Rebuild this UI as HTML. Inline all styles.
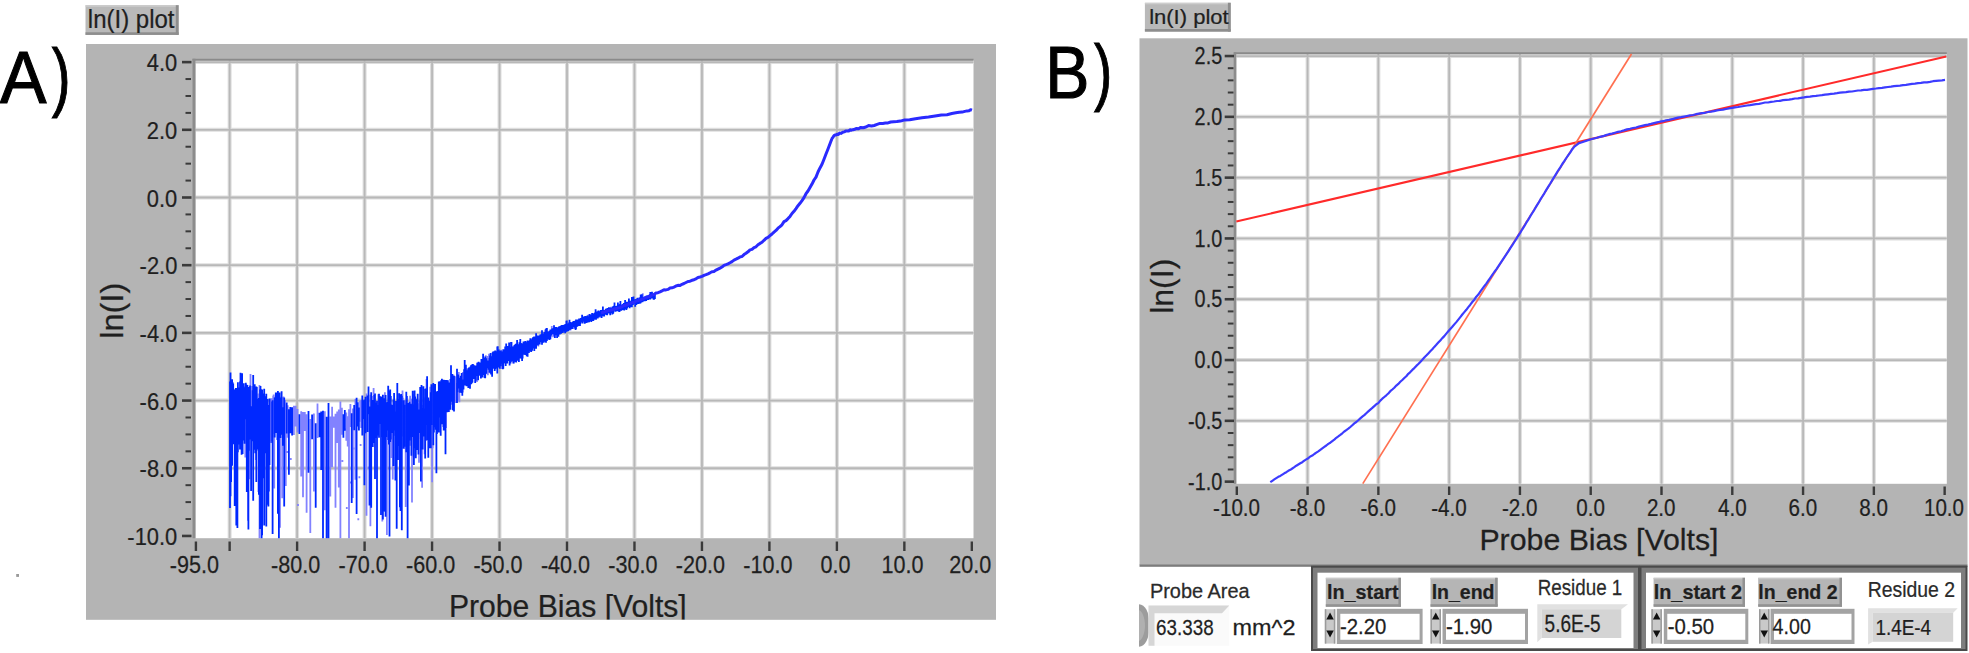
<!DOCTYPE html>
<html><head><meta charset="utf-8"><title>ln(I) plots</title>
<style>
html,body{margin:0;padding:0;background:#fff;}
body{width:1969px;height:653px;overflow:hidden;position:relative;}
svg{position:absolute;left:0;top:0;font-family:"Liberation Sans", Arial, sans-serif;}
</style></head><body>
<svg class="m" width="1969" height="653" viewBox="0 0 1969 653">
<rect x="85.5" y="5.2" width="93.1" height="29.7" fill="#b9b9b9"/>
<rect x="85.5" y="5.2" width="93.1" height="1.5" fill="#cdcdcd"/>
<rect x="175.8" y="5.2" width="2.8" height="29.7" fill="#8e8e8e"/>
<rect x="85.5" y="32.3" width="93.1" height="2.6" fill="#8e8e8e"/>
<rect x="1144.9" y="2.8" width="85.8" height="28.8" fill="#b9b9b9"/>
<rect x="1144.9" y="2.8" width="85.8" height="1.5" fill="#cdcdcd"/>
<rect x="1227.9" y="2.8" width="2.8" height="28.8" fill="#8e8e8e"/>
<rect x="1144.9" y="29" width="85.8" height="2.6" fill="#8e8e8e"/>
<rect x="16.2" y="574" width="2.8" height="2.9" fill="#9a9a9a"/>
<rect x="86" y="44" width="910" height="575.8" fill="#b4b4b4"/>
<rect x="195.3" y="60.5" width="778.2" height="477.7" fill="#ffffff"/>
<line x1="229.64" y1="60.5" x2="229.64" y2="538.2" stroke="#dedede" stroke-width="4"/>
<line x1="297.11" y1="60.5" x2="297.11" y2="538.2" stroke="#dedede" stroke-width="4"/>
<line x1="364.59" y1="60.5" x2="364.59" y2="538.2" stroke="#dedede" stroke-width="4"/>
<line x1="432.06" y1="60.5" x2="432.06" y2="538.2" stroke="#dedede" stroke-width="4"/>
<line x1="499.53" y1="60.5" x2="499.53" y2="538.2" stroke="#dedede" stroke-width="4"/>
<line x1="567" y1="60.5" x2="567" y2="538.2" stroke="#dedede" stroke-width="4"/>
<line x1="634.47" y1="60.5" x2="634.47" y2="538.2" stroke="#dedede" stroke-width="4"/>
<line x1="701.95" y1="60.5" x2="701.95" y2="538.2" stroke="#dedede" stroke-width="4"/>
<line x1="769.42" y1="60.5" x2="769.42" y2="538.2" stroke="#dedede" stroke-width="4"/>
<line x1="836.89" y1="60.5" x2="836.89" y2="538.2" stroke="#dedede" stroke-width="4"/>
<line x1="904.36" y1="60.5" x2="904.36" y2="538.2" stroke="#dedede" stroke-width="4"/>
<line x1="195.3" y1="468.26" x2="973.5" y2="468.26" stroke="#dedede" stroke-width="4"/>
<line x1="195.3" y1="400.57" x2="973.5" y2="400.57" stroke="#dedede" stroke-width="4"/>
<line x1="195.3" y1="332.88" x2="973.5" y2="332.88" stroke="#dedede" stroke-width="4"/>
<line x1="195.3" y1="265.19" x2="973.5" y2="265.19" stroke="#dedede" stroke-width="4"/>
<line x1="195.3" y1="197.5" x2="973.5" y2="197.5" stroke="#dedede" stroke-width="4"/>
<line x1="195.3" y1="129.81" x2="973.5" y2="129.81" stroke="#dedede" stroke-width="4"/>
<line x1="195.3" y1="62.12" x2="973.5" y2="62.12" stroke="#dedede" stroke-width="4"/>
<line x1="229.64" y1="60.5" x2="229.64" y2="538.2" stroke="#b8b8b8" stroke-width="1.8"/>
<line x1="297.11" y1="60.5" x2="297.11" y2="538.2" stroke="#b8b8b8" stroke-width="1.8"/>
<line x1="364.59" y1="60.5" x2="364.59" y2="538.2" stroke="#b8b8b8" stroke-width="1.8"/>
<line x1="432.06" y1="60.5" x2="432.06" y2="538.2" stroke="#b8b8b8" stroke-width="1.8"/>
<line x1="499.53" y1="60.5" x2="499.53" y2="538.2" stroke="#b8b8b8" stroke-width="1.8"/>
<line x1="567" y1="60.5" x2="567" y2="538.2" stroke="#b8b8b8" stroke-width="1.8"/>
<line x1="634.47" y1="60.5" x2="634.47" y2="538.2" stroke="#b8b8b8" stroke-width="1.8"/>
<line x1="701.95" y1="60.5" x2="701.95" y2="538.2" stroke="#b8b8b8" stroke-width="1.8"/>
<line x1="769.42" y1="60.5" x2="769.42" y2="538.2" stroke="#b8b8b8" stroke-width="1.8"/>
<line x1="836.89" y1="60.5" x2="836.89" y2="538.2" stroke="#b8b8b8" stroke-width="1.8"/>
<line x1="904.36" y1="60.5" x2="904.36" y2="538.2" stroke="#b8b8b8" stroke-width="1.8"/>
<line x1="195.3" y1="468.26" x2="973.5" y2="468.26" stroke="#b8b8b8" stroke-width="1.8"/>
<line x1="195.3" y1="400.57" x2="973.5" y2="400.57" stroke="#b8b8b8" stroke-width="1.8"/>
<line x1="195.3" y1="332.88" x2="973.5" y2="332.88" stroke="#b8b8b8" stroke-width="1.8"/>
<line x1="195.3" y1="265.19" x2="973.5" y2="265.19" stroke="#b8b8b8" stroke-width="1.8"/>
<line x1="195.3" y1="197.5" x2="973.5" y2="197.5" stroke="#b8b8b8" stroke-width="1.8"/>
<line x1="195.3" y1="129.81" x2="973.5" y2="129.81" stroke="#b8b8b8" stroke-width="1.8"/>
<line x1="195.3" y1="62.12" x2="973.5" y2="62.12" stroke="#b8b8b8" stroke-width="1.8"/>
<line x1="192.5" y1="59.8" x2="973.5" y2="59.8" stroke="#8a8a8a" stroke-width="2"/>
<line x1="194" y1="58.8" x2="194" y2="538.2" stroke="#8c8c8c" stroke-width="3"/>
<line x1="182" y1="62.12" x2="191.5" y2="62.12" stroke="#3a3a3a" stroke-width="2.6"/>
<line x1="185.5" y1="79.04" x2="191" y2="79.04" stroke="#3a3a3a" stroke-width="2"/>
<line x1="185.5" y1="95.97" x2="191" y2="95.97" stroke="#3a3a3a" stroke-width="2"/>
<line x1="185.5" y1="112.89" x2="191" y2="112.89" stroke="#3a3a3a" stroke-width="2"/>
<line x1="182" y1="129.81" x2="191.5" y2="129.81" stroke="#3a3a3a" stroke-width="2.6"/>
<line x1="185.5" y1="146.73" x2="191" y2="146.73" stroke="#3a3a3a" stroke-width="2"/>
<line x1="185.5" y1="163.66" x2="191" y2="163.66" stroke="#3a3a3a" stroke-width="2"/>
<line x1="185.5" y1="180.58" x2="191" y2="180.58" stroke="#3a3a3a" stroke-width="2"/>
<line x1="182" y1="197.5" x2="191.5" y2="197.5" stroke="#3a3a3a" stroke-width="2.6"/>
<line x1="185.5" y1="214.42" x2="191" y2="214.42" stroke="#3a3a3a" stroke-width="2"/>
<line x1="185.5" y1="231.34" x2="191" y2="231.34" stroke="#3a3a3a" stroke-width="2"/>
<line x1="185.5" y1="248.27" x2="191" y2="248.27" stroke="#3a3a3a" stroke-width="2"/>
<line x1="182" y1="265.19" x2="191.5" y2="265.19" stroke="#3a3a3a" stroke-width="2.6"/>
<line x1="185.5" y1="282.11" x2="191" y2="282.11" stroke="#3a3a3a" stroke-width="2"/>
<line x1="185.5" y1="299.03" x2="191" y2="299.03" stroke="#3a3a3a" stroke-width="2"/>
<line x1="185.5" y1="315.96" x2="191" y2="315.96" stroke="#3a3a3a" stroke-width="2"/>
<line x1="182" y1="332.88" x2="191.5" y2="332.88" stroke="#3a3a3a" stroke-width="2.6"/>
<line x1="185.5" y1="349.8" x2="191" y2="349.8" stroke="#3a3a3a" stroke-width="2"/>
<line x1="185.5" y1="366.73" x2="191" y2="366.73" stroke="#3a3a3a" stroke-width="2"/>
<line x1="185.5" y1="383.65" x2="191" y2="383.65" stroke="#3a3a3a" stroke-width="2"/>
<line x1="182" y1="400.57" x2="191.5" y2="400.57" stroke="#3a3a3a" stroke-width="2.6"/>
<line x1="185.5" y1="417.49" x2="191" y2="417.49" stroke="#3a3a3a" stroke-width="2"/>
<line x1="185.5" y1="434.41" x2="191" y2="434.41" stroke="#3a3a3a" stroke-width="2"/>
<line x1="185.5" y1="451.34" x2="191" y2="451.34" stroke="#3a3a3a" stroke-width="2"/>
<line x1="182" y1="468.26" x2="191.5" y2="468.26" stroke="#3a3a3a" stroke-width="2.6"/>
<line x1="185.5" y1="485.18" x2="191" y2="485.18" stroke="#3a3a3a" stroke-width="2"/>
<line x1="185.5" y1="502.11" x2="191" y2="502.11" stroke="#3a3a3a" stroke-width="2"/>
<line x1="185.5" y1="519.03" x2="191" y2="519.03" stroke="#3a3a3a" stroke-width="2"/>
<line x1="182" y1="535.95" x2="191.5" y2="535.95" stroke="#3a3a3a" stroke-width="2.6"/>
<line x1="195.91" y1="541.5" x2="195.91" y2="551" stroke="#3a3a3a" stroke-width="2.4"/>
<line x1="229.64" y1="541.5" x2="229.64" y2="551" stroke="#3a3a3a" stroke-width="2.4"/>
<line x1="297.11" y1="541.5" x2="297.11" y2="551" stroke="#3a3a3a" stroke-width="2.4"/>
<line x1="364.59" y1="541.5" x2="364.59" y2="551" stroke="#3a3a3a" stroke-width="2.4"/>
<line x1="432.06" y1="541.5" x2="432.06" y2="551" stroke="#3a3a3a" stroke-width="2.4"/>
<line x1="499.53" y1="541.5" x2="499.53" y2="551" stroke="#3a3a3a" stroke-width="2.4"/>
<line x1="567" y1="541.5" x2="567" y2="551" stroke="#3a3a3a" stroke-width="2.4"/>
<line x1="634.47" y1="541.5" x2="634.47" y2="551" stroke="#3a3a3a" stroke-width="2.4"/>
<line x1="701.95" y1="541.5" x2="701.95" y2="551" stroke="#3a3a3a" stroke-width="2.4"/>
<line x1="769.42" y1="541.5" x2="769.42" y2="551" stroke="#3a3a3a" stroke-width="2.4"/>
<line x1="836.89" y1="541.5" x2="836.89" y2="551" stroke="#3a3a3a" stroke-width="2.4"/>
<line x1="904.36" y1="541.5" x2="904.36" y2="551" stroke="#3a3a3a" stroke-width="2.4"/>
<line x1="971.83" y1="541.5" x2="971.83" y2="551" stroke="#3a3a3a" stroke-width="2.4"/>
<clipPath id="cpa"><rect x="86" y="44" width="910" height="575.6"/></clipPath>
<rect x="1139.5" y="38.3" width="828" height="526.2" fill="#b4b4b4"/>
<rect x="1139.5" y="564.3" width="828" height="2.5" fill="#7c7c7c"/>
<rect x="1236.3" y="54" width="710.5" height="429.8" fill="#ffffff"/>
<line x1="1307.58" y1="54" x2="1307.58" y2="483.8" stroke="#dedede" stroke-width="4"/>
<line x1="1378.37" y1="54" x2="1378.37" y2="483.8" stroke="#dedede" stroke-width="4"/>
<line x1="1449.15" y1="54" x2="1449.15" y2="483.8" stroke="#dedede" stroke-width="4"/>
<line x1="1519.94" y1="54" x2="1519.94" y2="483.8" stroke="#dedede" stroke-width="4"/>
<line x1="1590.72" y1="54" x2="1590.72" y2="483.8" stroke="#dedede" stroke-width="4"/>
<line x1="1661.5" y1="54" x2="1661.5" y2="483.8" stroke="#dedede" stroke-width="4"/>
<line x1="1732.29" y1="54" x2="1732.29" y2="483.8" stroke="#dedede" stroke-width="4"/>
<line x1="1803.07" y1="54" x2="1803.07" y2="483.8" stroke="#dedede" stroke-width="4"/>
<line x1="1873.86" y1="54" x2="1873.86" y2="483.8" stroke="#dedede" stroke-width="4"/>
<line x1="1236.3" y1="420.84" x2="1946.8" y2="420.84" stroke="#dedede" stroke-width="4"/>
<line x1="1236.3" y1="360.04" x2="1946.8" y2="360.04" stroke="#dedede" stroke-width="4"/>
<line x1="1236.3" y1="299.24" x2="1946.8" y2="299.24" stroke="#dedede" stroke-width="4"/>
<line x1="1236.3" y1="238.44" x2="1946.8" y2="238.44" stroke="#dedede" stroke-width="4"/>
<line x1="1236.3" y1="177.64" x2="1946.8" y2="177.64" stroke="#dedede" stroke-width="4"/>
<line x1="1236.3" y1="116.84" x2="1946.8" y2="116.84" stroke="#dedede" stroke-width="4"/>
<line x1="1236.3" y1="56.04" x2="1946.8" y2="56.04" stroke="#dedede" stroke-width="4"/>
<line x1="1307.58" y1="54" x2="1307.58" y2="483.8" stroke="#b8b8b8" stroke-width="1.8"/>
<line x1="1378.37" y1="54" x2="1378.37" y2="483.8" stroke="#b8b8b8" stroke-width="1.8"/>
<line x1="1449.15" y1="54" x2="1449.15" y2="483.8" stroke="#b8b8b8" stroke-width="1.8"/>
<line x1="1519.94" y1="54" x2="1519.94" y2="483.8" stroke="#b8b8b8" stroke-width="1.8"/>
<line x1="1590.72" y1="54" x2="1590.72" y2="483.8" stroke="#b8b8b8" stroke-width="1.8"/>
<line x1="1661.5" y1="54" x2="1661.5" y2="483.8" stroke="#b8b8b8" stroke-width="1.8"/>
<line x1="1732.29" y1="54" x2="1732.29" y2="483.8" stroke="#b8b8b8" stroke-width="1.8"/>
<line x1="1803.07" y1="54" x2="1803.07" y2="483.8" stroke="#b8b8b8" stroke-width="1.8"/>
<line x1="1873.86" y1="54" x2="1873.86" y2="483.8" stroke="#b8b8b8" stroke-width="1.8"/>
<line x1="1236.3" y1="420.84" x2="1946.8" y2="420.84" stroke="#b8b8b8" stroke-width="1.8"/>
<line x1="1236.3" y1="360.04" x2="1946.8" y2="360.04" stroke="#b8b8b8" stroke-width="1.8"/>
<line x1="1236.3" y1="299.24" x2="1946.8" y2="299.24" stroke="#b8b8b8" stroke-width="1.8"/>
<line x1="1236.3" y1="238.44" x2="1946.8" y2="238.44" stroke="#b8b8b8" stroke-width="1.8"/>
<line x1="1236.3" y1="177.64" x2="1946.8" y2="177.64" stroke="#b8b8b8" stroke-width="1.8"/>
<line x1="1236.3" y1="116.84" x2="1946.8" y2="116.84" stroke="#b8b8b8" stroke-width="1.8"/>
<line x1="1236.3" y1="56.04" x2="1946.8" y2="56.04" stroke="#b8b8b8" stroke-width="1.8"/>
<line x1="1233.8" y1="53.3" x2="1946.8" y2="53.3" stroke="#8a8a8a" stroke-width="2"/>
<line x1="1235" y1="52.3" x2="1235" y2="483.8" stroke="#8c8c8c" stroke-width="2.6"/>
<line x1="1224.7" y1="56.04" x2="1234" y2="56.04" stroke="#3a3a3a" stroke-width="2.6"/>
<line x1="1227.8" y1="68.2" x2="1233.5" y2="68.2" stroke="#3a3a3a" stroke-width="2"/>
<line x1="1227.8" y1="80.36" x2="1233.5" y2="80.36" stroke="#3a3a3a" stroke-width="2"/>
<line x1="1227.8" y1="92.52" x2="1233.5" y2="92.52" stroke="#3a3a3a" stroke-width="2"/>
<line x1="1227.8" y1="104.68" x2="1233.5" y2="104.68" stroke="#3a3a3a" stroke-width="2"/>
<line x1="1224.7" y1="116.84" x2="1234" y2="116.84" stroke="#3a3a3a" stroke-width="2.6"/>
<line x1="1227.8" y1="129" x2="1233.5" y2="129" stroke="#3a3a3a" stroke-width="2"/>
<line x1="1227.8" y1="141.16" x2="1233.5" y2="141.16" stroke="#3a3a3a" stroke-width="2"/>
<line x1="1227.8" y1="153.32" x2="1233.5" y2="153.32" stroke="#3a3a3a" stroke-width="2"/>
<line x1="1227.8" y1="165.48" x2="1233.5" y2="165.48" stroke="#3a3a3a" stroke-width="2"/>
<line x1="1224.7" y1="177.64" x2="1234" y2="177.64" stroke="#3a3a3a" stroke-width="2.6"/>
<line x1="1227.8" y1="189.8" x2="1233.5" y2="189.8" stroke="#3a3a3a" stroke-width="2"/>
<line x1="1227.8" y1="201.96" x2="1233.5" y2="201.96" stroke="#3a3a3a" stroke-width="2"/>
<line x1="1227.8" y1="214.12" x2="1233.5" y2="214.12" stroke="#3a3a3a" stroke-width="2"/>
<line x1="1227.8" y1="226.28" x2="1233.5" y2="226.28" stroke="#3a3a3a" stroke-width="2"/>
<line x1="1224.7" y1="238.44" x2="1234" y2="238.44" stroke="#3a3a3a" stroke-width="2.6"/>
<line x1="1227.8" y1="250.6" x2="1233.5" y2="250.6" stroke="#3a3a3a" stroke-width="2"/>
<line x1="1227.8" y1="262.76" x2="1233.5" y2="262.76" stroke="#3a3a3a" stroke-width="2"/>
<line x1="1227.8" y1="274.92" x2="1233.5" y2="274.92" stroke="#3a3a3a" stroke-width="2"/>
<line x1="1227.8" y1="287.08" x2="1233.5" y2="287.08" stroke="#3a3a3a" stroke-width="2"/>
<line x1="1224.7" y1="299.24" x2="1234" y2="299.24" stroke="#3a3a3a" stroke-width="2.6"/>
<line x1="1227.8" y1="311.4" x2="1233.5" y2="311.4" stroke="#3a3a3a" stroke-width="2"/>
<line x1="1227.8" y1="323.56" x2="1233.5" y2="323.56" stroke="#3a3a3a" stroke-width="2"/>
<line x1="1227.8" y1="335.72" x2="1233.5" y2="335.72" stroke="#3a3a3a" stroke-width="2"/>
<line x1="1227.8" y1="347.88" x2="1233.5" y2="347.88" stroke="#3a3a3a" stroke-width="2"/>
<line x1="1224.7" y1="360.04" x2="1234" y2="360.04" stroke="#3a3a3a" stroke-width="2.6"/>
<line x1="1227.8" y1="372.2" x2="1233.5" y2="372.2" stroke="#3a3a3a" stroke-width="2"/>
<line x1="1227.8" y1="384.36" x2="1233.5" y2="384.36" stroke="#3a3a3a" stroke-width="2"/>
<line x1="1227.8" y1="396.52" x2="1233.5" y2="396.52" stroke="#3a3a3a" stroke-width="2"/>
<line x1="1227.8" y1="408.68" x2="1233.5" y2="408.68" stroke="#3a3a3a" stroke-width="2"/>
<line x1="1224.7" y1="420.84" x2="1234" y2="420.84" stroke="#3a3a3a" stroke-width="2.6"/>
<line x1="1227.8" y1="433" x2="1233.5" y2="433" stroke="#3a3a3a" stroke-width="2"/>
<line x1="1227.8" y1="445.16" x2="1233.5" y2="445.16" stroke="#3a3a3a" stroke-width="2"/>
<line x1="1227.8" y1="457.32" x2="1233.5" y2="457.32" stroke="#3a3a3a" stroke-width="2"/>
<line x1="1227.8" y1="469.48" x2="1233.5" y2="469.48" stroke="#3a3a3a" stroke-width="2"/>
<line x1="1224.7" y1="481.64" x2="1234" y2="481.64" stroke="#3a3a3a" stroke-width="2.6"/>
<line x1="1236.8" y1="486.5" x2="1236.8" y2="495" stroke="#3a3a3a" stroke-width="2.4"/>
<line x1="1307.58" y1="486.5" x2="1307.58" y2="495" stroke="#3a3a3a" stroke-width="2.4"/>
<line x1="1378.37" y1="486.5" x2="1378.37" y2="495" stroke="#3a3a3a" stroke-width="2.4"/>
<line x1="1449.15" y1="486.5" x2="1449.15" y2="495" stroke="#3a3a3a" stroke-width="2.4"/>
<line x1="1519.94" y1="486.5" x2="1519.94" y2="495" stroke="#3a3a3a" stroke-width="2.4"/>
<line x1="1590.72" y1="486.5" x2="1590.72" y2="495" stroke="#3a3a3a" stroke-width="2.4"/>
<line x1="1661.5" y1="486.5" x2="1661.5" y2="495" stroke="#3a3a3a" stroke-width="2.4"/>
<line x1="1732.29" y1="486.5" x2="1732.29" y2="495" stroke="#3a3a3a" stroke-width="2.4"/>
<line x1="1803.07" y1="486.5" x2="1803.07" y2="495" stroke="#3a3a3a" stroke-width="2.4"/>
<line x1="1873.86" y1="486.5" x2="1873.86" y2="495" stroke="#3a3a3a" stroke-width="2.4"/>
<line x1="1944.64" y1="486.5" x2="1944.64" y2="495" stroke="#3a3a3a" stroke-width="2.4"/>
<path d="M231.6,386.3V430.6M234.2,394.1V432.3M243.2,387.1V423.0M245.3,386.0V457.4M246.3,384.1V434.8M247.9,394.8V520.7M249.5,400.7V479.3M250.5,374.1V428.8M251.6,393.1V428.8M252.1,386.0V440.2M255.8,403.9V459.9M258.4,393.5V492.1M259.5,384.9V538.2M265.3,405.8V442.2M270.0,399.3V443.0M270.5,403.9V428.9M271.1,398.6V434.7M271.6,398.3V441.4M273.2,395.8V434.0M273.7,394.4V430.7M274.2,396.7V488.5M276.8,401.9V425.4M278.4,397.2V423.4M280.0,396.8V527.7M282.2,397.3V498.2M283.5,396.5V435.0M285.0,400.1V425.7M285.8,404.1V486.1M287.2,451.0V453.0M287.7,405.2V437.8M290.8,458.0V460.0M293.9,405.7V435.0M295.7,405.7V426.4M297.5,408.9V432.5M298.0,503.9V505.9M301.2,411.3V476.6M303.0,412.1V497.2M304.8,412.1V430.9M306.6,414.2V512.7M310.3,419.1V533.1M313.9,413.6V491.4M317.5,403.6V438.0M324.8,411.2V510.2M330.3,416.4V496.5M332.1,406.7V467.3M333.8,416.6V427.7M335.5,413.8V507.7M337.2,411.4V443.1M338.8,409.5V487.4M339.3,417.8V419.8M340.4,401.4V538.2M341.9,407.7V434.8M342.4,460.0V462.0M345.3,428.4V430.4M346.3,412.6V440.8M346.8,507.0V509.0M347.7,416.3V446.4M349.0,409.2V538.2M350.4,404.0V426.9M350.9,481.5V483.5M352.2,440.6V442.6M352.9,408.4V498.0M353.4,447.5V449.5M355.4,398.9V479.7M358.3,518.2V520.2M359.4,476.2V478.2M360.1,401.0V421.7M360.6,444.0V446.0M361.2,400.1V428.0M361.7,425.2V427.2M366.5,393.6V515.8M369.0,466.8V468.8M370.4,394.7V526.2M372.1,396.1V427.7M373.6,387.9V425.8M378.3,394.2V421.1M382.3,409.3V521.5M384.9,392.2V511.6M386.9,404.5V534.9M391.5,404.3V458.0M392.8,410.1V479.5M394.7,401.1V435.8M402.5,390.4V436.6M403.1,397.7V424.3M405.0,400.6V448.7M405.7,402.9V507.1M410.1,395.8V445.7M412.0,398.7V502.5M413.3,393.9V457.0M419.0,403.3V462.8M419.6,400.7V439.1M422.1,405.0V487.8M424.6,397.6V454.3M426.5,378.9V441.1M430.2,386.8V434.1M432.1,397.9V482.3M432.7,386.0V448.2M434.5,388.8V416.0M443.1,385.4V427.0M446.1,385.5V427.9M449.2,383.3V411.9M451.6,383.5V404.7M453.4,374.5V397.2M454.6,376.3V400.4M455.2,376.2V403.1M455.8,386.3V403.0M456.4,382.9V402.6M458.8,371.9V400.6M459.4,383.7V402.3M461.1,376.5V391.9M462.9,372.0V392.4M467.1,368.3V379.8M467.7,370.2V382.1M473.5,364.4V378.6M477.0,362.8V381.9M485.8,355.3V374.3M486.9,356.2V370.2M487.9,356.1V375.3M489.0,353.8V372.9M501.3,349.8V369.0M501.8,350.8V362.5M512.9,346.5V363.4M521.7,342.9V359.0M528.5,341.6V350.3M537.5,335.8V345.0M538.4,337.8V346.5M545.1,329.5V338.9M551.8,326.0V334.2M553.1,330.1V337.3M570.8,322.9V330.2M574.3,322.1V328.9M583.5,318.0V322.2M585.6,317.6V322.5M586.9,315.9V321.2M588.2,314.7V321.5M590.8,315.8V320.7M600.3,311.7V317.4M601.2,310.1V314.0M608.1,309.0V313.5M611.1,306.7V311.8M621.7,305.4V310.2M623.4,304.5V308.3M639.0,298.1V301.8M639.4,297.5V302.8M642.8,293.3V297.5M645.7,297.0V300.5M649.9,294.1V297.1" fill="none" stroke="#8282ff" stroke-width="1.8"/>
<path d="M230.0,381.6V508.0M230.5,372.6V496.3M231.1,390.6V482.0M232.1,379.3V465.8M232.6,382.3V431.1M233.2,383.4V428.8M233.7,392.0V444.2M234.7,389.9V505.9M235.3,389.1V440.0M235.8,388.0V442.7M236.3,407.3V525.6M236.8,405.0V440.4M237.4,388.1V528.0M237.9,382.3V452.2M238.4,387.6V444.5M238.9,394.2V425.6M239.5,389.4V434.0M240.0,381.4V449.5M240.5,372.8V444.8M241.1,393.7V425.6M241.6,385.0V454.7M242.1,373.3V417.9M242.6,388.7V454.1M243.7,383.2V418.7M244.2,397.5V440.4M244.7,387.2V443.7M245.8,382.7V419.3M246.8,414.1V491.9M247.4,384.9V448.8M248.4,386.9V529.5M248.9,403.4V450.7M250.0,385.5V439.6M251.1,406.2V490.9M252.6,390.2V441.3M253.2,375.1V500.8M253.7,393.1V442.3M254.2,391.4V433.6M254.7,384.2V449.7M255.3,387.3V453.3M256.3,386.5V482.1M256.8,387.1V450.5M257.4,398.7V448.9M257.9,412.7V447.5M258.9,397.9V494.8M260.0,389.6V529.0M260.5,386.0V444.9M261.1,394.3V439.0M261.6,389.3V538.2M262.1,389.7V535.2M262.6,393.6V442.7M263.2,395.9V478.2M263.7,394.1V431.0M264.2,388.7V525.4M264.7,401.8V453.2M265.8,396.2V440.6M266.3,393.7V526.6M266.8,399.7V437.7M267.4,399.1V504.8M267.9,407.0V434.5M268.4,422.0V506.6M268.9,404.9V491.4M269.5,398.6V464.9M272.1,401.5V443.1M272.6,400.2V534.0M274.7,397.6V437.6M275.3,399.4V431.1M275.8,392.6V426.6M276.3,393.4V433.1M277.4,392.4V440.1M277.9,390.9V513.8M278.9,401.6V538.2M279.5,392.4V421.7M280.5,399.5V437.9M281.1,397.8V434.7M281.6,391.3V425.1M282.9,407.2V445.8M284.2,397.4V506.5M286.7,402.6V433.5M288.9,409.2V474.7M290.3,407.0V433.2M292.1,407.2V435.4M299.4,414.3V433.9M308.5,410.9V472.8M312.1,414.4V439.2M315.7,423.2V507.8M319.4,412.8V437.3M321.2,411.6V469.9M323.0,410.8V538.2M326.6,416.7V538.2M328.5,403.0V538.2M343.4,414.2V437.7M344.8,410.0V430.7M351.7,413.3V502.9M354.2,405.0V430.2M356.6,397.8V514.1M357.8,402.3V426.4M358.9,407.4V430.5M362.3,395.4V435.6M363.4,400.2V419.1M364.4,399.5V485.2M365.5,396.8V433.2M367.5,395.4V432.0M368.5,386.6V414.2M369.5,406.5V505.6M371.2,392.3V507.8M372.8,400.1V447.1M374.3,394.9V442.9M375.0,393.5V479.1M375.6,402.6V437.9M376.3,405.7V430.1M377.0,400.8V538.2M377.6,405.2V435.6M379.0,393.8V437.8M379.6,396.0V424.1M380.3,397.5V418.0M381.0,396.5V515.1M381.6,397.0V436.7M382.9,394.8V519.5M383.6,401.9V438.5M384.3,398.2V511.4M385.6,395.0V516.7M386.2,402.7V437.0M387.5,402.0V430.5M388.2,385.8V439.9M388.9,403.6V444.5M389.5,390.7V536.5M390.2,389.6V442.1M390.8,396.0V439.4M392.1,404.9V432.9M393.4,399.4V466.0M394.1,392.9V430.6M395.4,411.4V480.6M396.0,401.1V444.0M396.7,401.9V528.8M397.3,383.1V446.9M398.0,400.9V460.1M398.6,399.0V446.1M399.2,393.3V441.8M399.9,394.8V507.3M400.5,408.8V511.1M401.2,394.1V432.2M401.8,395.7V530.3M403.7,400.2V448.7M404.4,404.8V446.7M406.3,391.8V452.3M406.9,396.0V431.7M407.6,402.9V538.2M408.2,421.4V449.6M408.9,403.0V485.5M409.5,401.8V440.5M410.8,403.8V437.3M411.4,404.5V455.8M412.7,390.8V437.1M413.9,404.5V465.0M414.6,390.4V447.5M415.2,396.6V448.3M415.8,400.3V458.2M416.5,399.9V427.6M417.1,398.8V450.0M417.7,393.7V442.3M418.4,409.5V454.5M420.2,386.9V433.1M420.9,392.1V481.5M421.5,385.0V448.6M422.7,408.2V449.4M423.4,386.2V429.1M424.0,388.8V436.6M425.2,408.5V458.6M425.9,388.4V425.1M427.1,376.3V440.0M427.7,405.0V434.5M428.3,397.6V457.7M429.0,414.7V432.0M429.6,400.7V448.2M430.8,392.2V448.2M431.4,384.2V424.9M433.3,383.1V445.3M433.9,390.5V432.4M435.1,384.1V427.2M435.8,399.0V429.8M436.4,391.5V473.3M437.0,395.2V434.0M437.6,391.1V429.4M438.2,392.1V418.1M438.8,381.6V432.4M439.4,395.6V416.6M440.0,381.3V417.4M440.7,381.4V435.8M441.3,380.0V403.5M441.9,378.7V406.0M442.5,386.8V424.2M443.7,379.7V430.6M444.3,380.6V422.9M444.9,379.9V419.6M445.5,388.7V454.3M446.7,380.0V409.2M447.3,387.6V412.3M447.9,380.2V407.8M448.6,382.6V412.1M449.8,382.5V407.5M450.4,379.0V409.8M451.0,365.2V395.2M452.2,374.0V401.7M452.8,385.7V410.2M454.0,375.7V411.6M457.0,368.8V403.0M457.6,376.1V392.2M458.2,374.4V388.6M460.0,377.7V392.8M460.6,375.7V387.3M461.7,373.0V393.1M462.3,379.5V395.7M463.5,380.3V389.6M464.1,369.3V381.5M464.7,360.1V385.5M465.3,371.9V383.5M465.9,364.7V384.2M466.5,370.2V386.2M468.3,368.8V387.9M468.8,367.7V386.1M469.4,367.2V387.7M470.0,371.1V388.8M470.6,366.2V377.3M471.2,365.1V384.3M471.8,364.5V383.2M472.4,366.1V382.5M472.9,364.1V375.4M474.1,365.3V378.9M474.7,366.5V376.5M475.2,365.6V383.1M475.8,368.6V380.7M476.4,365.4V376.0M477.5,362.7V372.2M478.1,362.5V380.3M478.6,361.8V373.7M479.2,364.6V375.2M479.8,363.2V371.8M480.3,362.4V376.0M480.9,362.6V378.5M481.4,359.0V370.1M482.0,361.9V372.7M482.5,359.2V377.4M483.1,353.8V366.7M483.6,358.9V375.0M484.2,358.1V374.5M484.7,361.4V377.9M485.2,356.4V378.2M486.3,358.2V373.8M487.4,360.5V368.3M488.5,360.5V369.7M489.5,358.1V372.5M490.0,355.4V371.0M490.6,353.0V373.6M491.1,359.5V374.4M491.6,356.3V373.7M492.1,356.2V376.7M492.7,352.2V368.5M493.2,351.5V368.8M493.7,351.4V363.9M494.2,351.2V368.8M494.7,355.2V371.0M495.2,350.5V369.3M495.8,351.3V366.9M496.3,351.3V368.6M496.8,351.6V368.0M497.3,346.5V373.6M497.8,346.2V365.6M498.3,353.4V367.4M498.8,349.6V364.5M499.3,351.8V366.4M499.8,358.5V368.8M500.3,350.9V362.5M500.8,350.6V366.3M502.3,351.4V363.8M502.8,351.7V369.2M503.3,349.2V368.7M503.8,350.4V363.6M504.3,351.2V361.3M504.8,349.5V363.1M505.2,346.6V357.4M505.7,349.5V366.1M506.2,343.6V361.6M506.7,349.1V361.0M507.2,347.7V363.4M507.7,346.1V361.1M508.2,346.5V361.0M508.6,348.4V358.2M509.1,342.5V353.0M509.6,347.0V365.6M510.1,348.1V363.5M510.5,349.8V363.6M511.0,342.1V359.1M511.5,341.9V361.7M512.0,347.3V356.7M512.4,347.3V361.3M513.4,346.5V357.9M513.8,348.1V363.5M514.3,345.2V356.3M514.8,344.8V358.3M515.2,345.5V361.6M515.7,344.0V362.1M516.2,343.8V362.6M516.6,343.4V357.4M517.1,340.1V354.0M517.6,347.3V360.8M518.0,347.6V357.6M518.5,345.7V355.7M518.9,344.3V362.1M519.4,342.3V351.3M519.8,343.9V352.6M520.3,339.0V358.4M520.8,343.0V356.4M521.2,343.5V355.6M522.1,343.5V361.0M522.6,345.3V358.4M523.0,344.5V353.2M523.5,341.4V350.5M523.9,343.4V354.7M524.4,341.6V350.6M524.8,342.3V354.2M525.3,341.0V355.0M525.7,341.6V353.2M526.2,345.0V351.4M526.7,342.4V356.2M527.1,343.5V350.0M527.6,340.5V356.8M528.0,343.3V349.1M528.9,342.1V353.0M529.4,340.7V350.7M529.8,340.2V347.5M530.3,338.3V347.5M530.7,340.4V351.6M531.2,344.0V351.9M531.6,341.0V351.0M532.1,339.3V350.4M532.5,337.9V348.6M533.0,337.4V345.8M533.4,337.0V346.4M533.9,336.7V345.6M534.3,336.4V351.0M534.8,336.9V347.2M535.2,337.7V348.3M535.7,337.7V346.9M536.1,333.3V348.8M536.6,335.7V345.0M537.0,335.5V342.6M537.9,335.6V345.4M538.8,335.5V340.5M539.3,335.7V343.2M539.7,336.6V344.6M540.2,334.4V340.1M540.6,336.0V341.5M541.1,336.4V342.3M541.5,334.0V341.6M542.0,330.2V344.8M542.4,333.8V340.1M542.9,335.3V342.2M543.3,333.8V341.1M543.7,335.3V342.7M544.2,332.3V338.9M544.6,332.0V341.8M545.5,331.8V337.1M546.0,328.4V342.7M546.4,331.0V337.5M546.9,328.1V341.1M547.3,331.5V338.5M547.8,331.8V336.4M548.2,332.9V339.5M548.7,333.1V339.0M549.1,331.4V339.0M549.5,330.7V339.9M550.0,331.8V338.7M550.4,329.5V339.2M550.9,331.4V336.4M551.3,332.2V335.1M552.2,328.5V333.9M552.7,328.2V333.1M553.6,328.9V334.2M554.0,325.2V334.0M554.4,327.8V335.8M554.9,332.1V337.9M555.3,329.6V333.2M555.8,327.1V334.8M556.2,327.9V335.3M556.7,327.1V335.0M557.1,331.0V337.9M557.5,329.6V333.7M558.0,328.0V333.6M558.4,327.8V336.7M558.9,326.5V332.3M559.3,326.8V332.5M559.8,328.6V334.4M560.2,325.9V330.8M560.6,326.5V332.7M561.1,325.5V333.7M561.5,325.5V331.9M562.0,325.1V329.5M562.4,326.9V331.3M562.8,325.8V333.1M563.3,326.2V330.6M563.7,324.9V331.8M564.2,325.7V331.6M564.6,324.5V328.5M565.1,325.5V333.2M565.5,324.1V332.2M565.9,324.2V332.3M566.4,320.7V330.5M566.8,320.5V326.1M567.3,325.3V331.6M567.7,323.8V331.1M568.1,323.5V331.2M568.6,323.9V330.5M569.0,322.5V330.4M569.5,319.7V329.0M569.9,322.2V330.3M570.3,322.1V328.6M571.2,322.5V327.5M571.7,322.3V329.0M572.1,324.5V328.8M572.5,322.2V328.9M573.0,321.5V327.0M573.4,321.7V325.1M573.8,320.9V327.3M574.7,322.4V326.6M575.2,320.8V328.3M575.6,320.7V330.1M576.0,319.6V329.0M576.5,319.4V325.9M576.9,319.4V326.7M577.3,322.5V326.8M577.8,319.6V323.7M578.2,319.6V325.9M578.7,319.6V323.1M579.1,318.4V324.4M579.5,319.7V324.7M580.0,320.5V326.1M580.4,318.9V323.7M580.8,318.0V322.5M581.3,318.2V322.4M581.7,317.8V321.7M582.1,314.7V321.0M582.6,317.3V323.5M583.0,317.2V321.6M583.9,316.4V320.1M584.3,318.5V321.4M584.8,317.0V323.8M585.2,316.0V322.2M586.1,316.2V320.8M586.5,318.3V323.1M587.4,315.4V321.5M587.8,317.5V322.5M588.7,316.5V320.3M589.1,316.5V322.2M589.5,314.1V320.0M590.0,314.9V321.3M590.4,314.5V320.1M591.3,314.4V322.1M591.7,315.1V319.7M592.1,313.1V317.5M592.6,316.0V319.8M593.0,313.7V321.0M593.4,313.8V320.7M593.9,313.9V319.7M594.3,313.1V319.4M594.7,313.6V318.4M595.2,312.2V319.6M595.6,309.2V317.3M596.0,313.8V319.8M596.5,313.4V318.0M596.9,312.2V318.0M597.3,311.6V317.7M597.7,311.8V318.6M598.2,310.8V315.7M598.6,310.6V317.6M599.0,311.2V316.4M599.5,311.3V316.7M599.9,312.0V316.2M600.8,310.0V315.1M601.6,311.2V317.9M602.1,311.2V316.2M602.5,309.7V315.5M602.9,306.4V316.0M603.3,310.4V316.0M603.8,311.3V316.4M604.2,310.3V316.5M604.6,310.0V314.3M605.1,309.8V313.9M605.5,311.6V313.9M605.9,309.1V313.8M606.3,308.4V314.9M606.8,308.4V313.7M607.2,310.1V315.3M607.6,307.9V312.3M608.5,310.0V313.1M608.9,307.2V313.2M609.3,308.5V312.4M609.8,309.0V313.4M610.2,307.8V315.2M610.6,307.6V313.1M611.5,308.1V312.3M611.9,308.6V312.0M612.3,308.1V314.4M612.8,306.4V311.4M613.2,306.9V313.7M613.6,305.9V312.2M614.0,305.8V309.7M614.5,302.6V308.0M614.9,307.1V310.1M615.3,308.2V310.6M615.7,306.6V311.8M616.2,305.9V310.9M616.6,305.9V310.1M617.0,305.8V310.5M617.5,306.1V310.9M617.9,302.5V311.2M618.3,306.4V309.3M618.7,304.5V310.7M619.2,306.4V312.1M619.6,305.9V311.7M620.0,303.9V307.9M620.4,301.0V310.0M620.9,305.0V310.7M621.3,305.8V310.7M622.1,304.6V308.4M622.6,304.4V309.1M623.0,304.1V310.1M623.8,303.1V307.0M624.2,303.6V310.4M624.7,304.8V308.5M625.1,299.9V309.2M625.5,304.0V309.0M625.9,303.4V307.8M626.4,301.8V310.0M626.8,303.2V306.5M627.2,304.2V308.5M627.6,302.5V307.2M628.1,302.1V306.9M628.5,301.4V306.7M628.9,298.4V305.7M629.3,300.8V305.1M629.7,301.2V308.2M630.2,302.1V306.9M630.6,302.8V305.5M631.0,302.7V306.2M631.4,300.6V306.1M631.9,296.9V307.3M632.3,301.2V305.0M632.7,299.5V304.0M633.1,300.3V304.7M633.5,296.5V303.0M634.0,299.3V303.4M634.4,299.9V303.7M634.8,299.3V302.5M635.2,300.8V306.7M635.6,300.5V304.8M636.1,298.9V304.9M636.5,298.9V304.7M636.9,300.6V304.0M637.3,298.0V302.9M637.7,297.8V304.1M638.2,300.2V304.0M638.6,299.1V302.7M639.8,297.6V303.8M640.3,301.6V303.2M640.7,294.5V303.3M641.1,296.8V302.2M641.5,297.3V301.2M641.9,294.3V301.4M642.4,296.8V302.3M643.2,297.1V301.6M643.6,297.8V300.7M644.0,297.2V301.3M644.5,296.9V299.6M644.9,296.7V301.2M645.3,296.4V300.3M646.1,296.5V301.1M646.5,295.6V300.3M647.0,295.6V298.8M647.4,295.5V299.9M647.8,296.2V298.1M648.2,295.2V300.1M648.6,295.8V299.3M649.0,295.2V299.6M649.5,294.6V297.4M650.3,291.9V299.4M650.7,294.9V297.8M651.1,294.4V298.3M651.5,294.9V298.6M652.0,291.8V296.7M652.4,294.8V298.6M652.8,295.8V298.0M653.2,295.3V297.6M653.6,294.7V299.8M654.0,294.4V299.7M654.5,295.7V298.0M654.9,294.7V299.1" fill="none" stroke="#0028ff" stroke-width="1.8"/>
<path d="M601.0,312.8 602.5,312.5 604.5,311.8 607.0,311.0 609.6,310.2 612.4,309.8 615.2,308.7 617.7,308.1 620.0,307.6 622.0,306.6 623.8,305.5 625.5,305.2 627.2,304.8 628.8,303.7 630.5,303.5 632.2,302.6 634.0,302.6 636.0,300.9 638.2,300.5 640.6,299.8 642.9,298.9 645.1,297.7 647.1,297.3 648.8,296.5 650.0,296.4 652.0,295.1 654.0,294.5 656.0,293.0 658.0,292.7 660.0,291.9 662.0,290.9 664.0,289.8 666.0,289.9 668.0,289.4 670.0,288.1 672.0,287.8 674.0,287.1 676.0,286.0 678.0,285.3 680.0,285.6 682.0,284.3 684.0,283.5 686.0,282.5 688.0,281.5 690.0,281.2 692.0,280.3 694.0,279.7 696.0,278.8 698.0,277.5 700.0,277.0 702.0,276.4 704.0,275.4 706.0,274.7 708.0,273.8 710.0,272.8 712.0,271.7 714.0,271.4 716.0,270.1 718.0,269.1 720.0,268.1 722.0,267.0 724.0,265.4 726.0,264.7 728.0,263.9 730.0,262.8 732.0,261.6 734.0,260.1 736.0,259.2 738.0,258.2 740.0,256.9 742.0,256.5 744.0,254.6 746.0,253.3 748.0,251.8 750.0,249.9 752.0,249.4 754.0,247.6 756.0,246.8 758.0,244.8 760.0,243.4 762.0,242.3 764.0,240.3 766.0,238.4 768.0,237.4 770.0,235.7 772.0,234.0 774.0,232.1 776.0,230.4 778.0,228.2 780.0,226.6 782.0,224.8 784.0,221.6 786.0,220.6 788.0,218.6 790.0,216.4 792.0,213.5 794.0,211.3 796.0,208.6 798.0,205.7 800.0,203.3 802.0,200.6 804.0,197.6 806.0,193.7 808.0,191.0 810.0,187.6 812.0,184.1 814.0,180.0 816.0,177.1 818.0,172.0 820.0,167.9 822.0,164.3 824.0,159.2 826.0,154.0 828.0,149.0 831.8,139.0 832.0,138.4 832.2,138.4 832.4,138.0 832.7,137.5 833.1,137.1 833.6,136.2 834.2,135.5 835.0,134.9 836.0,134.9 837.1,134.2 838.4,134.4 839.7,133.1 841.2,133.4 842.7,132.3 844.2,131.9 845.7,130.9 847.1,131.0 848.6,131.0 850.0,129.8 851.5,130.2 853.0,129.7 854.7,129.3 856.6,128.4 858.6,128.7 860.8,127.4 863.3,127.7 865.9,127.0 868.6,125.6 871.4,126.0 874.2,125.5 877.1,124.4 880.0,123.4 882.8,123.4 885.4,123.0 888.0,122.9 890.7,122.0 893.7,121.7 896.9,121.6 900.5,121.1 904.7,119.9 909.7,119.8 915.5,118.7 921.9,117.8 928.5,117.1 935.1,116.1 941.4,115.1 947.0,114.7 951.8,113.5 955.8,112.8 959.2,112.3 962.2,112.1 964.8,111.4 967.1,110.9 969.0,110.8 970.6,109.7 972.0,110.2" fill="none" stroke="#2a2aff" stroke-width="3" stroke-linejoin="round"/>
<line x1="1236.3" y1="221.54" x2="1946.3" y2="56.4" stroke="#ff2a2a" stroke-width="2.1"/>
<line x1="1362.8" y1="483.6" x2="1631.5" y2="54" stroke="#ff7050" stroke-width="1.7"/>
<path d="M1270.3,482.2 1272.3,480.8 1274.3,479.4 1276.3,478.1 1278.3,476.8 1280.3,475.9 1282.3,474.6 1284.3,473.3 1286.3,472.2 1288.3,470.8 1290.3,469.8 1292.3,468.5 1294.3,467.2 1296.3,465.7 1298.3,464.5 1300.3,463.3 1302.3,462.2 1304.3,460.6 1306.3,459.4 1308.3,458.2 1310.3,456.5 1312.3,455.6 1314.3,454.0 1316.3,452.6 1318.3,451.3 1320.3,449.8 1322.3,448.3 1324.3,446.9 1326.3,445.5 1328.3,443.9 1330.3,442.7 1332.3,441.1 1334.3,439.6 1336.3,437.8 1338.3,436.4 1340.3,434.9 1342.3,433.3 1344.3,431.5 1346.3,430.1 1348.3,428.7 1350.3,427.0 1352.3,425.2 1354.3,423.4 1356.3,422.0 1358.3,420.2 1360.3,418.4 1362.3,416.7 1364.3,415.1 1366.3,413.2 1368.3,411.4 1370.3,409.6 1372.3,407.9 1374.3,406.1 1376.3,404.3 1378.3,403.1 1380.3,400.6 1382.3,398.7 1384.3,397.0 1386.3,395.3 1388.3,393.5 1390.3,391.2 1392.3,389.5 1394.3,387.7 1396.3,385.6 1398.3,383.9 1400.3,381.8 1402.3,380.0 1404.3,378.0 1406.3,376.2 1408.3,373.8 1410.3,372.1 1412.3,369.9 1414.3,368.1 1416.3,365.9 1418.3,364.0 1420.3,361.9 1422.3,359.8 1424.3,357.5 1426.3,355.5 1428.3,353.4 1430.3,351.3 1432.3,349.3 1434.3,346.9 1436.3,344.8 1438.3,342.6 1440.3,340.4 1442.3,338.1 1444.3,336.1 1446.3,333.6 1448.3,331.3 1450.3,329.0 1452.3,326.8 1454.3,324.4 1456.3,322.1 1458.3,319.6 1460.3,317.1 1462.3,314.5 1464.3,312.1 1466.3,309.8 1468.3,307.1 1470.3,304.7 1472.3,302.0 1474.3,299.7 1476.3,296.7 1478.3,294.6 1480.3,291.7 1482.3,288.9 1484.3,286.2 1486.3,283.6 1488.3,280.7 1490.3,277.8 1492.3,274.9 1494.3,272.0 1496.3,269.3 1498.3,266.4 1500.3,263.4 1502.3,260.4 1504.3,257.3 1506.3,254.4 1508.3,251.4 1510.3,248.1 1512.3,245.2 1514.3,242.0 1516.3,238.9 1518.3,235.7 1520.3,232.6 1522.3,229.3 1524.3,226.2 1526.3,222.7 1528.3,219.6 1530.3,216.2 1532.3,213.0 1534.3,209.8 1536.3,206.4 1538.3,203.2 1540.3,199.7 1542.3,196.5 1544.3,193.3 1546.3,189.9 1548.3,186.7 1550.3,183.5 1552.3,180.1 1554.3,176.9 1556.3,173.6 1558.3,170.3 1560.3,167.4 1562.3,164.0 1564.3,161.2 1566.3,158.0 1568.3,155.1 1570.3,152.3 1572.3,149.2 1574.4,146.6 1579.0,143.1 1582.0,142.2 1585.0,141.2 1588.0,140.2 1591.0,139.3 1594.0,138.5 1597.0,137.8 1600.0,136.8 1603.0,136.2 1606.0,135.1 1609.0,134.2 1612.0,133.6 1615.0,132.7 1618.0,131.8 1621.0,131.3 1624.0,130.4 1627.0,129.4 1630.0,128.8 1633.0,128.0 1636.0,127.5 1639.0,126.5 1642.0,125.8 1645.0,125.2 1648.0,124.6 1651.0,123.9 1654.0,123.1 1657.0,122.4 1660.0,121.7 1663.0,121.2 1666.0,120.3 1669.0,119.8 1672.0,119.2 1675.0,118.4 1678.0,117.6 1681.0,117.2 1684.0,116.6 1687.0,116.0 1690.0,115.4 1693.0,115.0 1696.0,114.2 1699.0,113.6 1702.0,113.2 1705.0,112.8 1708.0,112.0 1711.0,111.6 1714.0,111.1 1717.0,110.4 1720.0,110.0 1723.0,109.6 1726.0,109.0 1729.0,108.4 1732.0,107.9 1735.0,107.4 1738.0,107.0 1741.0,106.5 1744.0,106.0 1747.0,105.5 1750.0,105.1 1753.0,104.6 1756.0,104.1 1759.0,103.9 1762.0,103.2 1765.0,102.5 1768.0,102.5 1771.0,101.9 1774.0,101.5 1777.0,101.0 1780.0,100.8 1783.0,100.2 1786.0,99.9 1789.0,99.6 1792.0,99.1 1795.0,98.5 1798.0,98.4 1801.0,97.9 1804.0,97.4 1807.0,96.8 1810.0,96.6 1813.0,96.2 1816.0,95.9 1819.0,95.5 1822.0,95.2 1825.0,94.7 1828.0,94.3 1831.0,93.9 1834.0,93.6 1837.0,93.2 1840.0,92.7 1843.0,92.3 1846.0,92.2 1849.0,91.7 1852.0,91.5 1855.0,91.0 1858.0,90.5 1861.0,90.3 1864.0,89.9 1867.0,89.8 1870.0,89.3 1873.0,88.8 1876.0,88.5 1879.0,88.1 1882.0,87.8 1885.0,87.4 1888.0,87.0 1891.0,86.6 1894.0,86.1 1897.0,85.8 1900.0,85.6 1903.0,85.2 1906.0,84.8 1909.0,84.3 1912.0,83.8 1915.0,83.7 1918.0,83.2 1921.0,82.9 1924.0,82.3 1927.0,82.3 1930.0,81.9 1933.0,81.2 1936.0,80.9 1939.0,80.6 1942.0,80.3 1945.0,79.9" fill="none" stroke="#3c3cff" stroke-width="2.2" stroke-linejoin="round"/>
<path d="M1139,604.3 C1145,604.5 1149.5,612 1149.5,625.5 C1149.5,639 1145,646.5 1139,646.8 Z" fill="#9c9c9c"/>
<path d="M1139,610 C1142,611 1145,618 1145,625.5 C1145,633 1142,640 1139,641 Z" fill="#b0b0b0"/>
<rect x="1148.5" y="605.6" width="80.8" height="40.2" fill="#fafafa"/>
<path d="M1148.5,605.6 L1229.3,605.6 L1222,613.3 L1154.5,613.3 L1154.5,645.8 L1148.5,645.8 Z" fill="#d6d6d6"/>
<rect x="1311" y="565.7" width="329" height="85.3" fill="#4a4a4a"/>
<rect x="1313" y="567.7" width="325" height="81.3" fill="#7e7e7e"/>
<rect x="1317.5" y="572.7" width="316" height="75.3" fill="#ffffff"/>
<rect x="1639.5" y="565.7" width="328" height="85.3" fill="#4a4a4a"/>
<rect x="1641.5" y="567.7" width="324" height="81.3" fill="#7e7e7e"/>
<rect x="1646" y="572.7" width="315" height="75.3" fill="#ffffff"/>
<rect x="1325.8" y="577.8" width="75.1" height="28.8" fill="#b5b5b5"/>
<rect x="1325.8" y="577.8" width="75.1" height="1.5" fill="#c8c8c8"/>
<rect x="1398.4" y="577.8" width="2.5" height="28.8" fill="#929292"/>
<rect x="1325.8" y="604.2" width="75.1" height="2.6" fill="#929292"/>
<rect x="1324.8" y="609.2" width="10.5" height="34.4" fill="#c9c9c9"/>
<rect x="1324.8" y="609.2" width="1.5" height="34.4" fill="#9a9a9a"/>
<rect x="1333.8" y="609.2" width="1.5" height="34.4" fill="#9a9a9a"/>
<path d="M1326.3,619.5 L1330.05,612.5 L1333.8,619.5 Z" fill="#111"/>
<path d="M1326.3,630.5 L1330.05,637.5 L1333.8,630.5 Z" fill="#111"/>
<rect x="1336.8" y="608.8" width="85.8" height="35.2" fill="#a3a3a3"/>
<rect x="1340.3" y="613.8" width="79.3" height="26" fill="#ffffff"/>
<rect x="1430.5" y="577.8" width="67.1" height="28.8" fill="#b5b5b5"/>
<rect x="1430.5" y="577.8" width="67.1" height="1.5" fill="#c8c8c8"/>
<rect x="1495.1" y="577.8" width="2.5" height="28.8" fill="#929292"/>
<rect x="1430.5" y="604.2" width="67.1" height="2.6" fill="#929292"/>
<rect x="1430.5" y="609.2" width="10.5" height="34.4" fill="#c9c9c9"/>
<rect x="1430.5" y="609.2" width="1.5" height="34.4" fill="#9a9a9a"/>
<rect x="1439.5" y="609.2" width="1.5" height="34.4" fill="#9a9a9a"/>
<path d="M1432,619.5 L1435.75,612.5 L1439.5,619.5 Z" fill="#111"/>
<path d="M1432,630.5 L1435.75,637.5 L1439.5,630.5 Z" fill="#111"/>
<rect x="1442.5" y="608.8" width="85.5" height="35.2" fill="#a3a3a3"/>
<rect x="1446" y="613.8" width="79" height="26" fill="#ffffff"/>
<path d="M1537.3,604.3 L1628,604.3 L1621.3,609.2 L1541.6,609.2 L1541.6,638 L1537.3,642.3 Z" fill="#e1e1e1"/>
<rect x="1541.6" y="609.2" width="79.7" height="28.8" fill="#d4d4d4"/>
<rect x="1653.6" y="577.8" width="91.4" height="28.8" fill="#b5b5b5"/>
<rect x="1653.6" y="577.8" width="91.4" height="1.5" fill="#c8c8c8"/>
<rect x="1742.5" y="577.8" width="2.5" height="28.8" fill="#929292"/>
<rect x="1653.6" y="604.2" width="91.4" height="2.6" fill="#929292"/>
<rect x="1651.4" y="609.2" width="10.5" height="34.4" fill="#c9c9c9"/>
<rect x="1651.4" y="609.2" width="1.5" height="34.4" fill="#9a9a9a"/>
<rect x="1660.4" y="609.2" width="1.5" height="34.4" fill="#9a9a9a"/>
<path d="M1652.9,619.5 L1656.65,612.5 L1660.4,619.5 Z" fill="#111"/>
<path d="M1652.9,630.5 L1656.65,637.5 L1660.4,630.5 Z" fill="#111"/>
<rect x="1663.8" y="608.8" width="84.5" height="35.2" fill="#a3a3a3"/>
<rect x="1667.3" y="613.8" width="78" height="26" fill="#ffffff"/>
<rect x="1758.2" y="577.8" width="83.8" height="28.8" fill="#b5b5b5"/>
<rect x="1758.2" y="577.8" width="83.8" height="1.5" fill="#c8c8c8"/>
<rect x="1839.5" y="577.8" width="2.5" height="28.8" fill="#929292"/>
<rect x="1758.2" y="604.2" width="83.8" height="2.6" fill="#929292"/>
<rect x="1759" y="609.2" width="10.5" height="34.4" fill="#c9c9c9"/>
<rect x="1759" y="609.2" width="1.5" height="34.4" fill="#9a9a9a"/>
<rect x="1768" y="609.2" width="1.5" height="34.4" fill="#9a9a9a"/>
<path d="M1760.5,619.5 L1764.25,612.5 L1768,619.5 Z" fill="#111"/>
<path d="M1760.5,630.5 L1764.25,637.5 L1768,630.5 Z" fill="#111"/>
<rect x="1770.5" y="608.8" width="84" height="35.2" fill="#a3a3a3"/>
<rect x="1774" y="613.8" width="77.5" height="26" fill="#ffffff"/>
<path d="M1868.1,608.2 L1957.7,608.2 L1953.2,612.7 L1872.6,612.7 L1872.6,641.8 L1868.1,644.5 Z" fill="#e1e1e1"/>
<rect x="1872.6" y="612.7" width="80.6" height="29.1" fill="#d4d4d4"/>
<text transform="translate(87.82,27.55) scale(0.2401,0.2500)" font-size="100" fill="#1f1f1f" stroke="#1f1f1f" stroke-width="1">ln(I) plot</text>
<text transform="translate(1149.16,23.8) scale(0.2201,0.2042)" font-size="100" fill="#1f1f1f" stroke="#1f1f1f" stroke-width="1.22">ln(I) plot</text>
<text transform="translate(146.85,71.28) scale(0.2189,0.2394)" font-size="100" fill="#1f1f1f" stroke="#1f1f1f" stroke-width="1.04">4.0</text>
<text transform="translate(146.85,138.97) scale(0.2189,0.2394)" font-size="100" fill="#1f1f1f" stroke="#1f1f1f" stroke-width="1.04">2.0</text>
<text transform="translate(146.85,206.66) scale(0.2189,0.2394)" font-size="100" fill="#1f1f1f" stroke="#1f1f1f" stroke-width="1.04">0.0</text>
<text transform="translate(139.62,274.35) scale(0.2189,0.2394)" font-size="100" fill="#1f1f1f" stroke="#1f1f1f" stroke-width="1.04">-2.0</text>
<text transform="translate(139.62,342.04) scale(0.2189,0.2394)" font-size="100" fill="#1f1f1f" stroke="#1f1f1f" stroke-width="1.04">-4.0</text>
<text transform="translate(139.62,409.73) scale(0.2189,0.2394)" font-size="100" fill="#1f1f1f" stroke="#1f1f1f" stroke-width="1.04">-6.0</text>
<text transform="translate(139.62,477.42) scale(0.2189,0.2394)" font-size="100" fill="#1f1f1f" stroke="#1f1f1f" stroke-width="1.04">-8.0</text>
<text transform="translate(127.37,545.11) scale(0.2189,0.2394)" font-size="100" fill="#1f1f1f" stroke="#1f1f1f" stroke-width="1.04">-10.0</text>
<text transform="translate(169.79,573.26) scale(0.2159,0.2437)" font-size="100" fill="#1f1f1f" stroke="#1f1f1f" stroke-width="1.03">-95.0</text>
<text transform="translate(271,573.26) scale(0.2159,0.2437)" font-size="100" fill="#1f1f1f" stroke="#1f1f1f" stroke-width="1.03">-80.0</text>
<text transform="translate(338.47,573.26) scale(0.2159,0.2437)" font-size="100" fill="#1f1f1f" stroke="#1f1f1f" stroke-width="1.03">-70.0</text>
<text transform="translate(405.94,573.26) scale(0.2159,0.2437)" font-size="100" fill="#1f1f1f" stroke="#1f1f1f" stroke-width="1.03">-60.0</text>
<text transform="translate(473.42,573.26) scale(0.2159,0.2437)" font-size="100" fill="#1f1f1f" stroke="#1f1f1f" stroke-width="1.03">-50.0</text>
<text transform="translate(540.89,573.26) scale(0.2159,0.2437)" font-size="100" fill="#1f1f1f" stroke="#1f1f1f" stroke-width="1.03">-40.0</text>
<text transform="translate(608.36,573.26) scale(0.2159,0.2437)" font-size="100" fill="#1f1f1f" stroke="#1f1f1f" stroke-width="1.03">-30.0</text>
<text transform="translate(675.83,573.26) scale(0.2159,0.2437)" font-size="100" fill="#1f1f1f" stroke="#1f1f1f" stroke-width="1.03">-20.0</text>
<text transform="translate(743.3,573.26) scale(0.2159,0.2437)" font-size="100" fill="#1f1f1f" stroke="#1f1f1f" stroke-width="1.03">-10.0</text>
<text transform="translate(820.38,573.26) scale(0.2159,0.2437)" font-size="100" fill="#1f1f1f" stroke="#1f1f1f" stroke-width="1.03">0.0</text>
<text transform="translate(881.38,573.26) scale(0.2159,0.2437)" font-size="100" fill="#1f1f1f" stroke="#1f1f1f" stroke-width="1.03">10.0</text>
<text transform="translate(949.17,573.26) scale(0.2159,0.2437)" font-size="100" fill="#1f1f1f" stroke="#1f1f1f" stroke-width="1.03">20.0</text>
<g clip-path="url(#cpa)"><text transform="translate(448.89,616.8) scale(0.3013,0.3087)" font-size="100" fill="#1f1f1f" stroke="#1f1f1f" stroke-width="0.81">Probe Bias [Volts]</text></g>
<text transform="translate(122.94,338.67) rotate(-90) scale(0.3245,0.3074)" font-size="100" fill="#1f1f1f" stroke="#1f1f1f" stroke-width="0.81">ln(I)</text>
<text transform="translate(1188.06,489.71) scale(0.1985,0.2338)" font-size="100" fill="#1f1f1f" stroke="#1f1f1f" stroke-width="1.07">-1.0</text>
<text transform="translate(1188.06,428.91) scale(0.1985,0.2338)" font-size="100" fill="#1f1f1f" stroke="#1f1f1f" stroke-width="1.07">-0.5</text>
<text transform="translate(1194.61,368.11) scale(0.1985,0.2338)" font-size="100" fill="#1f1f1f" stroke="#1f1f1f" stroke-width="1.07">0.0</text>
<text transform="translate(1194.61,307.31) scale(0.1985,0.2338)" font-size="100" fill="#1f1f1f" stroke="#1f1f1f" stroke-width="1.07">0.5</text>
<text transform="translate(1194.61,246.51) scale(0.1985,0.2338)" font-size="100" fill="#1f1f1f" stroke="#1f1f1f" stroke-width="1.07">1.0</text>
<text transform="translate(1194.61,185.7) scale(0.1985,0.2371)" font-size="100" fill="#1f1f1f" stroke="#1f1f1f" stroke-width="1.05">1.5</text>
<text transform="translate(1194.61,124.91) scale(0.1985,0.2338)" font-size="100" fill="#1f1f1f" stroke="#1f1f1f" stroke-width="1.07">2.0</text>
<text transform="translate(1194.61,64.11) scale(0.1985,0.2338)" font-size="100" fill="#1f1f1f" stroke="#1f1f1f" stroke-width="1.07">2.5</text>
<text transform="translate(1213.1,515.97) scale(0.2061,0.2310)" font-size="100" fill="#1f1f1f" stroke="#1f1f1f" stroke-width="1.08">-10.0</text>
<text transform="translate(1289.66,515.97) scale(0.2061,0.2310)" font-size="100" fill="#1f1f1f" stroke="#1f1f1f" stroke-width="1.08">-8.0</text>
<text transform="translate(1360.44,515.97) scale(0.2061,0.2310)" font-size="100" fill="#1f1f1f" stroke="#1f1f1f" stroke-width="1.08">-6.0</text>
<text transform="translate(1431.23,515.97) scale(0.2061,0.2310)" font-size="100" fill="#1f1f1f" stroke="#1f1f1f" stroke-width="1.08">-4.0</text>
<text transform="translate(1502.01,515.97) scale(0.2061,0.2310)" font-size="100" fill="#1f1f1f" stroke="#1f1f1f" stroke-width="1.08">-2.0</text>
<text transform="translate(1576.2,515.97) scale(0.2061,0.2310)" font-size="100" fill="#1f1f1f" stroke="#1f1f1f" stroke-width="1.08">0.0</text>
<text transform="translate(1646.88,515.97) scale(0.2061,0.2310)" font-size="100" fill="#1f1f1f" stroke="#1f1f1f" stroke-width="1.08">2.0</text>
<text transform="translate(1717.97,515.97) scale(0.2061,0.2310)" font-size="100" fill="#1f1f1f" stroke="#1f1f1f" stroke-width="1.08">4.0</text>
<text transform="translate(1788.45,515.97) scale(0.2061,0.2310)" font-size="100" fill="#1f1f1f" stroke="#1f1f1f" stroke-width="1.08">6.0</text>
<text transform="translate(1859.33,515.97) scale(0.2061,0.2310)" font-size="100" fill="#1f1f1f" stroke="#1f1f1f" stroke-width="1.08">8.0</text>
<text transform="translate(1923.93,515.97) scale(0.2061,0.2310)" font-size="100" fill="#1f1f1f" stroke="#1f1f1f" stroke-width="1.08">10.0</text>
<text transform="translate(1479.38,549.9) scale(0.3030,0.2913)" font-size="100" fill="#1f1f1f" stroke="#1f1f1f" stroke-width="0.86">Probe Bias [Volts]</text>
<text transform="translate(1173.49,313.84) rotate(-90) scale(0.3201,0.3149)" font-size="100" fill="#1f1f1f" stroke="#1f1f1f" stroke-width="0.79">ln(I)</text>
<text transform="translate(1149.9,597.5) scale(0.1994,0.1986)" font-size="100" fill="#2a2a2a" stroke="#2a2a2a" stroke-width="1.26">Probe Area</text>
<text transform="translate(1156.06,635.07) scale(0.1882,0.2254)" font-size="100" fill="#1f1f1f" stroke="#1f1f1f" stroke-width="1.11">63.338</text>
<text transform="translate(1232.46,635.3) scale(0.2346,0.2214)" font-size="100" fill="#1f1f1f" stroke="#1f1f1f" stroke-width="1.13">mm^2</text>
<text transform="translate(1326.91,599) scale(0.1983,0.2082)" font-size="100" font-weight="bold" fill="#1f1f1f" stroke="#1f1f1f" stroke-width="1.2">ln_start</text>
<text transform="translate(1339.99,634.07) scale(0.2036,0.2296)" font-size="100" fill="#1f1f1f" stroke="#1f1f1f" stroke-width="1.09">-2.20</text>
<text transform="translate(1431.63,599) scale(0.1951,0.2082)" font-size="100" font-weight="bold" fill="#1f1f1f" stroke="#1f1f1f" stroke-width="1.2">ln_end</text>
<text transform="translate(1445.88,634.07) scale(0.2041,0.2296)" font-size="100" fill="#1f1f1f" stroke="#1f1f1f" stroke-width="1.09">-1.90</text>
<text transform="translate(1537.7,594.72) scale(0.1879,0.2221)" font-size="100" fill="#2a2a2a" stroke="#2a2a2a" stroke-width="1.13">Residue 1</text>
<text transform="translate(1544.54,632.06) scale(0.1906,0.2366)" font-size="100" fill="#1f1f1f" stroke="#1f1f1f" stroke-width="1.06">5.6E-5</text>
<text transform="translate(1653.71,599) scale(0.1988,0.2082)" font-size="100" font-weight="bold" fill="#1f1f1f" stroke="#1f1f1f" stroke-width="1.2">ln_start 2</text>
<text transform="translate(1667.68,634.07) scale(0.2041,0.2296)" font-size="100" fill="#1f1f1f" stroke="#1f1f1f" stroke-width="1.09">-0.50</text>
<text transform="translate(1758.33,599) scale(0.1954,0.2082)" font-size="100" font-weight="bold" fill="#1f1f1f" stroke="#1f1f1f" stroke-width="1.2">ln_end 2</text>
<text transform="translate(1772.61,634.07) scale(0.1968,0.2296)" font-size="100" fill="#1f1f1f" stroke="#1f1f1f" stroke-width="1.09">4.00</text>
<text transform="translate(1867.65,597.21) scale(0.1941,0.2147)" font-size="100" fill="#2a2a2a" stroke="#2a2a2a" stroke-width="1.16">Residue 2</text>
<text transform="translate(1875.49,635) scale(0.1887,0.2203)" font-size="100" fill="#1f1f1f" stroke="#1f1f1f" stroke-width="1.13">1.4E-4</text>
</svg>
<svg width="1969" height="653" viewBox="0 0 1969 653">
<text transform="translate(0,103.4) scale(0.6970,0.7391)" font-size="100" fill="#000" stroke="#000" stroke-width="1.49">A</text>
<text transform="translate(51.73,101.98) scale(0.5654,0.7532)" font-size="100" fill="#000" stroke="#000" stroke-width="1.46">)</text>
<text transform="translate(1045.3,98) scale(0.6623,0.7348)" font-size="100" fill="#000" stroke="#000" stroke-width="1.5">B</text>
<text transform="translate(1093.95,96.84) scale(0.5462,0.7457)" font-size="100" fill="#000" stroke="#000" stroke-width="1.48">)</text>
</svg>
</body></html>
